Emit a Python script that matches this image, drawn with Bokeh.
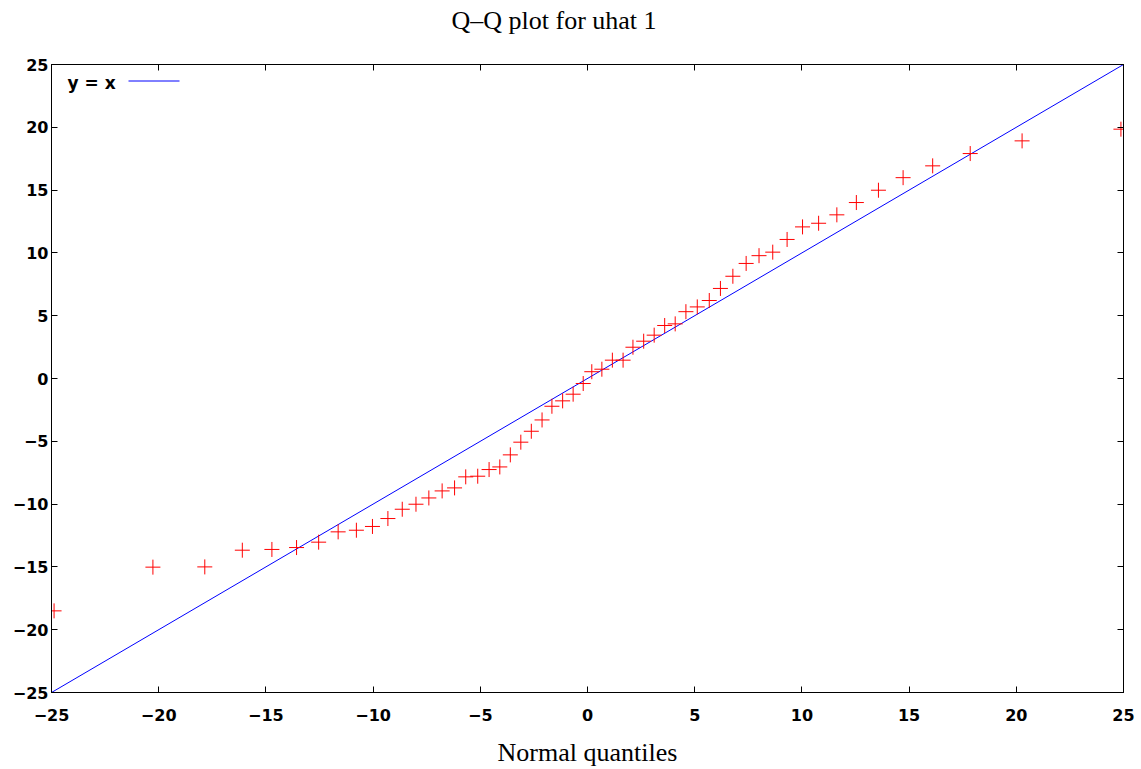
from bokeh.plotting import figure
from bokeh.layouts import column
from bokeh.models import Range1d, FixedTicker, LinearAxis, Label, Arrow
from bokeh.embed import file_html
from bokeh.resources import INLINE

# Normal quantiles (x) and sorted residuals uhat1 (y)
normal_quantiles = [
    -24.88, -20.27, -17.85, -16.10, -14.72, -13.57, -12.54, -11.63, -10.78, -10.03,
    -9.31, -8.64, -8.00, -7.40, -6.78, -6.20, -5.68, -5.12, -4.59, -4.09,
    -3.60, -3.11, -2.62, -2.12, -1.66, -1.16, -0.67, -0.20,
    0.20, 0.67, 1.16, 1.66, 2.12, 2.62, 3.11, 3.60, 4.09, 4.59,
    5.12, 5.68, 6.20, 6.78, 7.40, 8.00, 8.64, 9.31, 10.03, 10.78,
    11.63, 12.54, 13.57, 14.72, 16.10, 17.85, 20.27, 24.88,
]
uhat_quantiles = [
    -18.50, -15.02, -15.00, -13.67, -13.61, -13.46, -13.03, -12.21, -12.08, -11.78,
    -11.15, -10.41, -10.01, -9.51, -8.95, -8.71, -7.83, -7.78, -7.25, -7.04,
    -6.08, -5.07, -4.20, -3.30, -2.21, -1.78, -1.25, -0.40,
    0.54, 0.74, 1.46, 1.46, 2.49, 2.97, 3.45, 4.22, 4.35, 5.32,
    5.70, 6.21, 7.17, 8.14, 9.16, 9.78, 10.06, 11.07, 12.07, 12.36,
    13.03, 14.01, 14.99, 15.99, 16.93, 17.91, 18.92, 19.85,
]
ref_line = [-25, 25]
tick_values = [-25, -20, -15, -10, -5, 0, 5, 10, 15, 20, 25]

title_text = "Q\u2013Q plot for uhat 1"
x_label = "Normal quantiles"
legend_label = "y = x"

TICK_FONT = "DejaVu Sans"
TITLE_H = 40

# --- title strip ---
t = figure(
    width=1141, height=TITLE_H,
    output_backend="svg", toolbar_location=None,
    x_range=Range1d(0, 1141), y_range=Range1d(0, TITLE_H),
    min_border=0, outline_line_color=None,
    background_fill_color="white", border_fill_color="white",
)
t.axis.visible = False
t.grid.visible = False
t.add_layout(Label(x=400, y=TITLE_H - 20, x_units="screen", y_units="screen",
                   text=title_text, text_font="Liberation Serif", text_font_size="26px",
                   text_baseline="middle", text_align="left", text_color="black"))

# --- main Q-Q plot ---
p = figure(
    width=1141, height=769 - TITLE_H,
    output_backend="svg", toolbar_location=None,
    x_range=Range1d(-25, 25), y_range=Range1d(-25, 25),
    min_border_left=51, min_border_right=18,
    min_border_top=64 - TITLE_H, min_border_bottom=77,
    background_fill_color="white", border_fill_color="white",
)
p.xgrid.visible = False
p.ygrid.visible = False
p.outline_line_color = "black"
p.outline_line_width = 1

def style_axis(ax, show_labels):
    ax.ticker = FixedTicker(ticks=tick_values)
    ax.minor_tick_line_color = None
    ax.major_tick_in = 6
    ax.major_tick_out = 0
    ax.major_tick_line_color = "black"
    ax.major_tick_line_width = 1
    ax.axis_line_color = "black"
    ax.axis_line_width = 1
    if show_labels:
        ax.major_label_text_font = TICK_FONT
        ax.major_label_text_font_size = "16px"
        ax.major_label_text_font_style = "bold"
        ax.major_label_text_color = "black"
    else:
        ax.major_label_text_font_size = "0px"
        ax.major_label_text_color = None
        ax.major_label_standoff = 0

xa = p.xaxis[0]
style_axis(xa, True)
xa.major_label_standoff = 16
xa.axis_label = x_label
xa.axis_label_text_font = "Liberation Serif"
xa.axis_label_text_font_size = "26px"
xa.axis_label_text_font_style = "normal"
xa.axis_label_text_color = "black"
xa.axis_label_standoff = 14

ya = p.yaxis[0]
style_axis(ya, True)
ya.major_label_standoff = 3

top_ax = LinearAxis()
style_axis(top_ax, False)
p.add_layout(top_ax, "above")
right_ax = LinearAxis()
style_axis(right_ax, False)
p.add_layout(right_ax, "right")

# y = x reference line and the Q-Q points
p.line(ref_line, ref_line, line_color="#0000ff", line_width=1)
p.scatter(normal_quantiles, uhat_quantiles, marker="cross", size=15,
          line_color="#ff0000", line_width=1)

# gnuplot-style key: text then line sample
p.add_layout(Label(x=16, y=610, x_units="screen", y_units="screen",
                   text=legend_label, text_font=TICK_FONT, text_font_size="17px",
                   text_font_style="bold", text_baseline="middle", text_color="black"))
p.add_layout(Arrow(end=None, x_start=77, y_start=611.5, x_end=128, y_end=611.5,
                   start_units="screen", end_units="screen",
                   line_color="#0000ff", line_width=1))

layout = column(t, p, spacing=0)
open("out.html", "w").write(file_html(layout, INLINE))
